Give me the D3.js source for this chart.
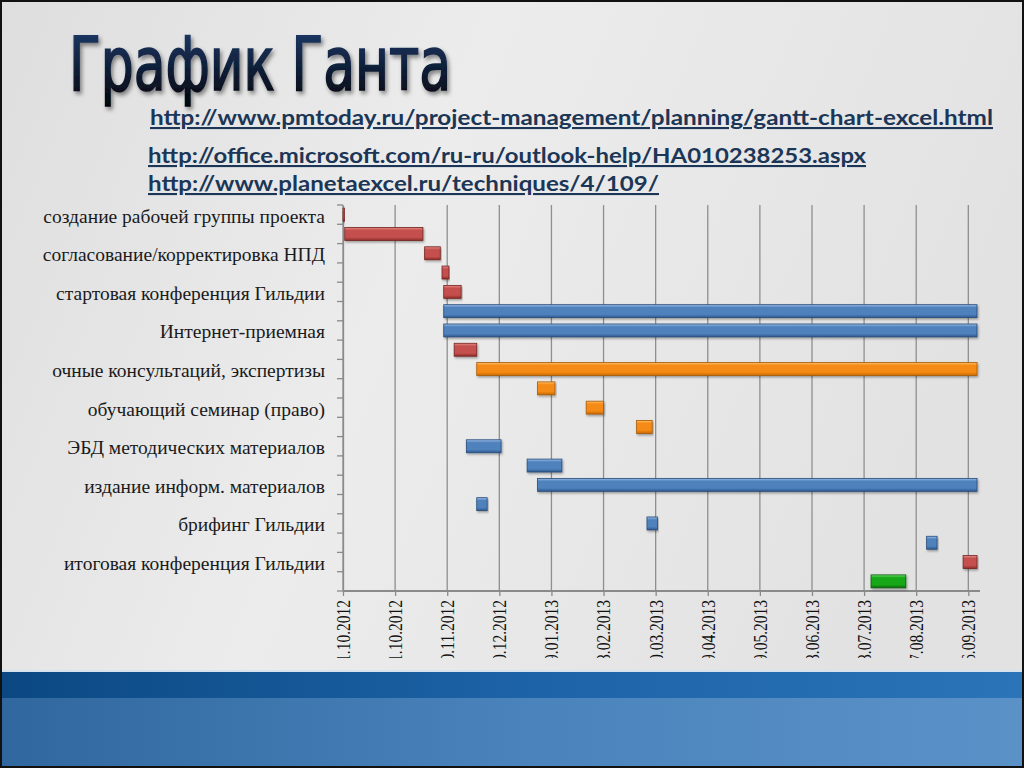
<!DOCTYPE html>
<html>
<head>
<meta charset="utf-8">
<script src="https://cdn.jsdelivr.net/npm/d3@7"></script>
<style>
  html, body { margin: 0; padding: 0; background: #e6e6e6; }
  svg { display: block; }
</style>
</head>
<body>
<svg width="1024" height="768"></svg>
<script>
// rows of the gantt, top to bottom (excel shows every 2nd label only)
var categories = [
  "создание рабочей группы проекта", "",
  "согласование/корректировка НПД", "",
  "стартовая конференция Гильдии", "",
  "Интернет-приемная", "",
  "очные консультаций, экспертизы", "",
  "обучающий семинар (право)", "",
  "ЭБД методических материалов", "",
  "издание информ. материалов", "",
  "брифинг Гильдии", "",
  "итоговая конференция Гильдии", ""
];
var starts = ["01.10.2012","02.10.2012","17.11.2012","27.11.2012","28.11.2012","28.11.2012","28.11.2012",
              "04.12.2012","17.12.2012","21.01.2013","18.02.2013","19.03.2013","11.12.2012","15.01.2013",
              "21.01.2013","17.12.2012","25.03.2013","02.09.2013","23.09.2013","01.08.2013"];
var ends   = ["02.10.2012","16.11.2012","26.11.2012","01.12.2012","08.12.2012","01.10.2013","01.10.2013",
              "17.12.2012","01.10.2013","31.01.2013","28.02.2013","28.03.2013","31.12.2012","04.02.2013",
              "01.10.2013","23.12.2012","31.03.2013","08.09.2013","01.10.2013","21.08.2013"];
var kinds  = ["red","red","red","red","red","blue","blue","red","orange","orange",
              "orange","orange","blue","blue","blue","blue","blue","blue","red","green"];
var tickLabels = ["01.10.2012","31.10.2012","30.11.2012","30.12.2012","29.01.2013","28.02.2013","30.03.2013",
                  "29.04.2013","29.05.2013","28.06.2013","28.07.2013","27.08.2013","26.09.2013"];
var axisEnd = "01.10.2013";
var links = ["http://www.pmtoday.ru/project-management/planning/gantt-chart-excel.html",
             "http://office.microsoft.com/ru-ru/outlook-help/HA010238253.aspx",
             "http://www.planetaexcel.ru/techniques/4/109/"];

var parse = d3.timeParse("%d.%m.%Y");
var svg = d3.select("svg");
var defs = svg.append("defs");

// slide background
var bg = defs.append("linearGradient").attr("id", "bg").attr("x1", 0).attr("y1", 0).attr("x2", 1).attr("y2", 0.3);
bg.append("stop").attr("offset", 0).attr("stop-color", "#dedede");
bg.append("stop").attr("offset", 0.45).attr("stop-color", "#ececec");
bg.append("stop").attr("offset", 1).attr("stop-color", "#e2e2e2");
svg.append("rect").attr("width", 1024).attr("height", 768).attr("fill", "url(#bg)");

// bottom blue band
var b1 = defs.append("linearGradient").attr("id", "band1");
b1.append("stop").attr("offset", 0).attr("stop-color", "#0b4882");
b1.append("stop").attr("offset", 0.5).attr("stop-color", "#1c62a6");
b1.append("stop").attr("offset", 1).attr("stop-color", "#2b74b8");
var b2 = defs.append("linearGradient").attr("id", "band2");
b2.append("stop").attr("offset", 0).attr("stop-color", "#2f679e");
b2.append("stop").attr("offset", 0.5).attr("stop-color", "#4a83bb");
b2.append("stop").attr("offset", 1).attr("stop-color", "#5a92c8");
svg.append("rect").attr("x", 0).attr("y", 670).attr("width", 1024).attr("height", 2).attr("fill", "#d6e2ee");
svg.append("rect").attr("x", 0).attr("y", 672).attr("width", 1024).attr("height", 26).attr("fill", "url(#band1)");
svg.append("rect").attr("x", 0).attr("y", 698).attr("width", 1024).attr("height", 70).attr("fill", "url(#band2)");
svg.append("rect").attr("x", 1).attr("y", 1).attr("width", 1022).attr("height", 766)
  .attr("fill", "none").attr("stroke", "#111").attr("stroke-width", 2);

// title
var tg = defs.append("linearGradient").attr("id", "titleFill").attr("x1", 0).attr("y1", 0).attr("x2", 0).attr("y2", 1);
tg.append("stop").attr("offset", 0).attr("stop-color", "#1f3e70");
tg.append("stop").attr("offset", 1).attr("stop-color", "#02050a");
var ts = defs.append("filter").attr("id", "titleShadow").attr("x", "-5%").attr("y", "-20%").attr("width", "110%").attr("height", "140%");
ts.append("feDropShadow").attr("dx", 2).attr("dy", 3).attr("stdDeviation", 2).attr("flood-color", "#000").attr("flood-opacity", 0.45);
svg.append("text")
  .attr("x", 69).attr("y", 90)
  .attr("textLength", 382).attr("lengthAdjust", "spacingAndGlyphs")
  .style("font-family", "'Liberation Sans Narrow', 'DejaVu Sans Condensed', sans-serif")
  .style("font-size", "74px")
  .attr("fill", "url(#titleFill)")
  .attr("stroke", "url(#titleFill)")
  .attr("stroke-width", 1.6)
  .attr("filter", "url(#titleShadow)")
  .text("График Ганта");

// links
var linkPos = [[150, 125, 843], [148, 163, 718], [148, 191, 511]];
svg.selectAll("text.link")
  .data(links)
  .enter()
  .append("text")
  .attr("class", "link")
  .attr("x", function(d, i) { return linkPos[i][0]; })
  .attr("y", function(d, i) { return linkPos[i][1]; })
  .attr("textLength", function(d, i) { return linkPos[i][2]; })
  .attr("lengthAdjust", "spacingAndGlyphs")
  .style("font-family", "Lato, 'Open Sans', sans-serif")
  .style("font-weight", "bold")
  .style("font-size", "21px")
  .style("text-decoration", "underline")
  .attr("fill", "#1b3656")
  .text(function(d) { return d; });

// scales
var x0 = 343, x1 = 977, yTop = 205, yBot = 591;
var x = d3.scaleTime().domain([parse(tickLabels[0]), parse(axisEnd)]).range([x0, x1]);
var y = d3.scaleBand().domain(d3.range(categories.length)).range([yTop, yBot]).paddingInner(0.33).paddingOuter(0.165);
var row = d3.scaleBand().domain(d3.range(categories.length)).range([yTop, yBot]);

var palette = {
  red:    ["#e58c8a", "#c4504d", "#8e2e2c", "#74241f"],
  blue:   ["#9cc0ea", "#4f81bd", "#2e5a8f", "#264b78"],
  orange: ["#ffc06a", "#f68a12", "#c46a05", "#a85a08"],
  green:  ["#6fe06f", "#18a818", "#0b6e0b", "#095a09"]
};
Object.keys(palette).forEach(function(k) {
  var c = palette[k];
  var g = defs.append("linearGradient").attr("id", "bar-" + k).attr("x1", 0).attr("y1", 0).attr("x2", 0).attr("y2", 1);
  g.append("stop").attr("offset", 0).attr("stop-color", c[0]);
  g.append("stop").attr("offset", 0.22).attr("stop-color", c[1]);
  g.append("stop").attr("offset", 0.75).attr("stop-color", c[1]);
  g.append("stop").attr("offset", 1).attr("stop-color", c[2]);
});
var sh = defs.append("filter").attr("id", "barShadow").attr("x", "-10%").attr("y", "-30%").attr("width", "120%").attr("height", "170%");
sh.append("feDropShadow").attr("dx", 1).attr("dy", 1.5).attr("stdDeviation", 1).attr("flood-color", "#000").attr("flood-opacity", 0.35);
var ls = defs.append("filter").attr("id", "lineBlur");
ls.append("feGaussianBlur").attr("stdDeviation", 0.6);

var chart = svg.append("g");

// vertical gridlines
chart.selectAll("line.grid")
  .data(tickLabels)
  .enter()
  .append("line")
  .attr("class", "grid")
  .attr("x1", function(d) { return x(parse(d)); })
  .attr("x2", function(d) { return x(parse(d)); })
  .attr("y1", yTop)
  .attr("y2", yBot)
  .attr("stroke", "#8f8f8f")
  .attr("stroke-width", 1.3);

// shadow of the hidden "start" series
chart.selectAll("line.startShadow")
  .data(starts)
  .enter()
  .append("line")
  .attr("class", "startShadow")
  .attr("x1", x0)
  .attr("x2", function(d) { return x(parse(d)); })
  .attr("y1", function(d, i) { return y(i) + y.bandwidth() + 1.5; })
  .attr("y2", function(d, i) { return y(i) + y.bandwidth() + 1.5; })
  .attr("stroke", "#8a8a8a")
  .attr("stroke-width", 2)
  .attr("filter", "url(#lineBlur)");

// axes
var yAxis = d3.axisLeft(row).tickValues([]).tickSize(0);
chart.append("g").attr("transform", "translate(" + x0 + ",0)").call(yAxis)
  .select(".domain").attr("stroke", "#8a8a8a").attr("stroke-width", 1.3);
chart.selectAll("line.ytick")
  .data(d3.range(categories.length + 1))
  .enter()
  .append("line")
  .attr("class", "ytick")
  .attr("x1", x0 - 6).attr("x2", x0)
  .attr("y1", function(d) { return yTop + d * row.step(); })
  .attr("y2", function(d) { return yTop + d * row.step(); })
  .attr("stroke", "#8a8a8a")
  .attr("stroke-width", 1.3);

var xAxis = d3.axisBottom(x)
  .tickValues(tickLabels.map(parse))
  .tickSize(5)
  .tickFormat(d3.timeFormat("%d.%m.%Y"));
var gx = chart.append("g").attr("transform", "translate(0," + yBot + ")").call(xAxis);
gx.select(".domain").attr("stroke", "#8a8a8a").attr("stroke-width", 2).attr("d", "M" + x0 + ",0H" + (x1 + 3));
gx.selectAll(".tick line").attr("stroke", "#8a8a8a").attr("stroke-width", 1.3);
// the slide cuts the start of the rotated dates
defs.append("clipPath").attr("id", "tickClip")
  .append("rect").attr("x", 300).attr("y", -10).attr("width", 724).attr("height", 77);
gx.attr("clip-path", "url(#tickClip)");
gx.selectAll(".tick text")
  .attr("transform", "rotate(-90) scale(1,1.17)")
  .attr("x", -9).attr("y", 0).attr("dy", "0.35em")
  .style("text-anchor", "end")
  .style("font-family", "'Liberation Serif', 'Times New Roman', serif")
  .style("font-size", "15.5px")
  .attr("fill", "#111");

// bars
chart.selectAll("rect.bars")
  .data(starts)
  .enter()
  .append("rect")
  .attr("class", "bars")
  .attr("x", function(d) { return x(parse(d)); })
  .attr("y", function(d, i) { return y(i); })
  .attr("width", function(d, i) { return Math.max(1.5, x(parse(ends[i])) - x(parse(d))); })
  .attr("height", y.bandwidth())
  .attr("fill", function(d, i) { return "url(#bar-" + kinds[i] + ")"; })
  .attr("stroke", function(d, i) { return palette[kinds[i]][3]; })
  .attr("stroke-width", 0.8)
  .attr("filter", "url(#barShadow)");

// category labels
chart.selectAll("text.cat")
  .data(categories)
  .enter()
  .append("text")
  .attr("class", "cat")
  .attr("x", 325)
  .attr("y", function(d, i) { return row(i) + row.bandwidth() / 2 + 8; })
  .style("text-anchor", "end")
  .style("font-family", "'Liberation Serif', 'Times New Roman', serif")
  .style("font-size", "19.5px")
  .attr("fill", "#1a1a1a")
  .text(function(d) { return d; });
</script>
</body>
</html>
